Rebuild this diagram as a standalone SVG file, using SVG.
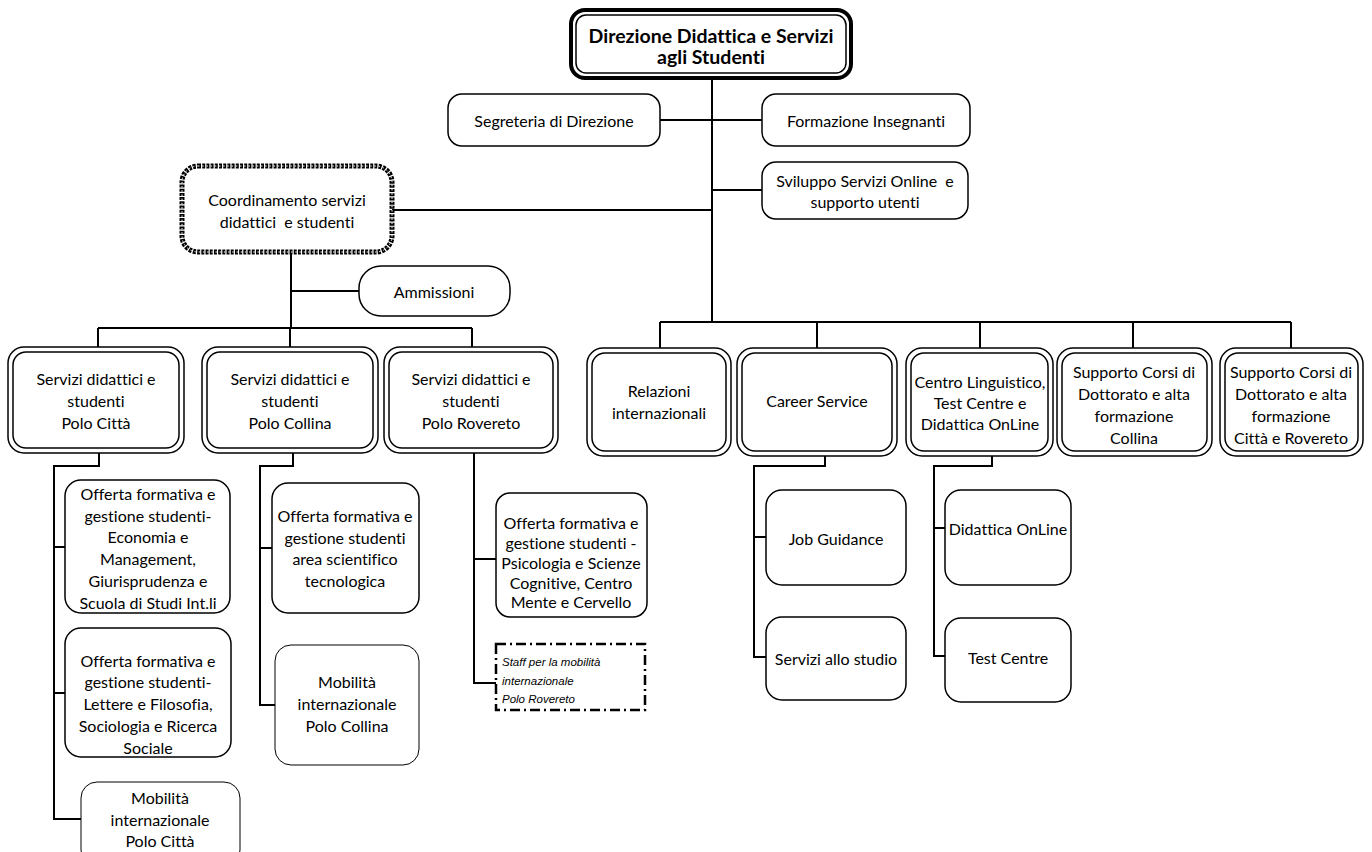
<svg xmlns="http://www.w3.org/2000/svg" width="1372" height="852" viewBox="0 0 1372 852">
<style>
.b{fill:#fff;stroke:#000;stroke-width:1.5}
.bi{fill:none;stroke:#000;stroke-width:1.5}
.t{font-family:Lato,"Open Sans",sans-serif;font-size:16px;text-anchor:middle;dominant-baseline:central;fill:#000;font-variant-ligatures:none}
.tb{font-family:Lato,"Open Sans",sans-serif;font-size:19.5px;font-weight:bold;text-anchor:middle;dominant-baseline:central;fill:#000;font-variant-ligatures:none}
.ti{font-family:"Liberation Sans",Arial,sans-serif;font-size:11.5px;font-style:italic;dominant-baseline:central;fill:#000}
.c{fill:none;stroke:#000;stroke-width:2}
</style>
<rect width="1372" height="852" fill="#fff"/>
<g id="connectors">
<path class="c" d="M712 78V322M660 120H762M712 190H762M392 210H712M660 322H1291M660 322V348M817 322V348M980 322V348M1133 322V348M1291 322V348"/>
<path class="c" d="M291 252V328M291 291H359M98 328H472M98 328V347M290 328V347M472 328V347"/>
<path class="c" d="M99 453V466H54V819H81M54 547H65M54 693H65"/>
<path class="c" d="M293 453V466H260V705H275M260 548H272"/>
<path class="c" d="M474 453V683H496M474 559H496"/>
<path class="c" d="M825 456V466H754V657H766M754 537H766"/>
<path class="c" d="M992 456V466H934V656H945M934 528H945"/>
</g>
<g id="n-direzione">
<rect x="571" y="10" width="280" height="68" rx="14" fill="#fff" stroke="#000" stroke-width="4"/>
<rect x="576" y="15" width="270" height="58" rx="10" class="bi" stroke-width="1.2"/>
<text class="tb" x="711" y="35">Direzione Didattica e Servizi</text>
<text class="tb" x="711" y="56">agli Studenti</text>
</g>
<g id="n-segreteria">
<rect class="b" x="448" y="94" width="212" height="52" rx="14"/>
<text class="t" x="554" y="120">Segreteria di Direzione</text>
</g>
<g id="n-formazione">
<rect class="b" x="762" y="94" width="208" height="52" rx="14"/>
<text class="t" x="866" y="120">Formazione Insegnanti</text>
</g>
<g id="n-sviluppo">
<rect class="b" x="762" y="162" width="206" height="57" rx="14"/>
<text class="t" x="865" y="180">Sviluppo Servizi Online&#160; e</text>
<text class="t" x="865" y="201">supporto utenti</text>
</g>
<g id="n-coordinamento">
<rect x="182" y="166" width="210" height="86" rx="16" fill="#fff" stroke="#000" stroke-width="5" stroke-dasharray="3 1.2"/>
<rect x="182" y="166" width="210" height="86" rx="16" fill="none" stroke="#fff" stroke-width="1" stroke-dasharray="1.5 2.7"/>
<text class="t" x="287" y="199">Coordinamento servizi</text>
<text class="t" x="287" y="221">didattici&#160; e studenti</text>
</g>
<g id="n-ammissioni">
<rect class="b" x="359" y="266" width="151" height="50" rx="22"/>
<text class="t" x="434" y="291">Ammissioni</text>
</g>
<g id="n-citta">
<rect class="b" x="8" y="347" width="176" height="106" rx="16"/>
<rect class="bi" x="13" y="352" width="166" height="96" rx="13"/>
<text class="t" x="96" y="378">Servizi didattici e</text>
<text class="t" x="96" y="400">studenti</text>
<text class="t" x="96" y="422">Polo Città</text>
</g>
<g id="n-collina">
<rect class="b" x="202" y="347" width="176" height="106" rx="16"/>
<rect class="bi" x="207" y="352" width="166" height="96" rx="13"/>
<text class="t" x="290" y="378">Servizi didattici e</text>
<text class="t" x="290" y="400">studenti</text>
<text class="t" x="290" y="422">Polo Collina</text>
</g>
<g id="n-rovereto">
<rect class="b" x="384" y="347" width="174" height="106" rx="16"/>
<rect class="bi" x="389" y="352" width="164" height="96" rx="13"/>
<text class="t" x="471" y="378">Servizi didattici e</text>
<text class="t" x="471" y="400">studenti</text>
<text class="t" x="471" y="422">Polo Rovereto</text>
</g>
<g id="n-relazioni">
<rect class="b" x="587" y="348" width="144" height="108" rx="16"/>
<rect class="bi" x="592" y="353" width="134" height="98" rx="13"/>
<text class="t" x="659" y="390">Relazioni</text>
<text class="t" x="659" y="412">internazionali</text>
</g>
<g id="n-career">
<rect class="b" x="737" y="348" width="160" height="108" rx="16"/>
<rect class="bi" x="742" y="353" width="150" height="98" rx="13"/>
<text class="t" x="817" y="400">Career Service</text>
</g>
<g id="n-centro">
<rect class="b" x="906" y="348" width="147" height="108" rx="16"/>
<rect class="bi" x="911" y="353" width="137" height="98" rx="13"/>
<text class="t" x="980" y="381">Centro Linguistico,</text>
<text class="t" x="980" y="402">Test Centre e</text>
<text class="t" x="980" y="423">Didattica OnLine</text>
</g>
<g id="n-supporto-collina">
<rect class="b" x="1057" y="348" width="155" height="108" rx="16"/>
<rect class="bi" x="1062" y="353" width="145" height="98" rx="13"/>
<text class="t" x="1134" y="371">Supporto Corsi di</text>
<text class="t" x="1134" y="393">Dottorato e alta</text>
<text class="t" x="1134" y="415">formazione</text>
<text class="t" x="1134" y="437">Collina</text>
</g>
<g id="n-supporto-citta">
<rect class="b" x="1220" y="348" width="143" height="108" rx="16"/>
<rect class="bi" x="1225" y="353" width="133" height="98" rx="13"/>
<text class="t" x="1291" y="371">Supporto Corsi di</text>
<text class="t" x="1291" y="393">Dottorato e alta</text>
<text class="t" x="1291" y="415">formazione</text>
<text class="t" x="1291" y="437">Città e Rovereto</text>
</g>
<g id="n-offerta-eco">
<rect class="b" x="65" y="480" width="165" height="133" rx="16"/>
<text class="t" x="148" y="493">Offerta formativa e</text>
<text class="t" x="148" y="515">gestione studenti-</text>
<text class="t" x="148" y="536">Economia e</text>
<text class="t" x="148" y="558">Management,</text>
<text class="t" x="148" y="580">Giurisprudenza e</text>
<text class="t" x="148" y="602">Scuola di Studi Int.li</text>
</g>
<g id="n-offerta-lettere">
<rect class="b" x="65" y="628" width="166" height="129" rx="16"/>
<text class="t" x="148" y="660">Offerta formativa e</text>
<text class="t" x="148" y="681">gestione studenti-</text>
<text class="t" x="148" y="703">Lettere e Filosofia,</text>
<text class="t" x="148" y="725">Sociologia e Ricerca</text>
<text class="t" x="148" y="747">Sociale</text>
</g>
<g id="n-mobilita-citta">
<rect x="81" y="782" width="159" height="84" rx="16" fill="#fff" stroke="#000" stroke-width="1"/>
<text class="t" x="160" y="797">Mobilità</text>
<text class="t" x="160" y="819">internazionale</text>
<text class="t" x="160" y="840">Polo Città</text>
</g>
<g id="n-offerta-sci">
<rect class="b" x="272" y="483" width="147" height="130" rx="16"/>
<text class="t" x="345" y="515">Offerta formativa e</text>
<text class="t" x="345" y="537">gestione studenti</text>
<text class="t" x="345" y="558">area scientifico</text>
<text class="t" x="345" y="580">tecnologica</text>
</g>
<g id="n-mobilita-collina">
<rect x="275" y="645" width="144" height="120" rx="16" fill="#fff" stroke="#000" stroke-width="1"/>
<text class="t" x="347" y="681">Mobilità</text>
<text class="t" x="347" y="703">internazionale</text>
<text class="t" x="347" y="725">Polo Collina</text>
</g>
<g id="n-offerta-psi">
<rect class="b" x="496" y="493" width="151" height="124" rx="14"/>
<text class="t" x="571" y="522">Offerta formativa e</text>
<text class="t" x="571" y="542">gestione studenti -</text>
<text class="t" x="571" y="562">Psicologia e Scienze</text>
<text class="t" x="571" y="582">Cognitive, Centro</text>
<text class="t" x="571" y="601">Mente e Cervello</text>
</g>
<g id="n-staff">
<rect x="496" y="644" width="149" height="66" fill="#fff" stroke="#000" stroke-width="2.5" stroke-dasharray="10 4 2 4"/>
<text class="ti" x="502" y="662">Staff per la mobilità</text>
<text class="ti" x="502" y="681">internazionale</text>
<text class="ti" x="502" y="699">Polo Rovereto</text>
</g>
<g id="n-job">
<rect class="b" x="766" y="490" width="140" height="95" rx="16"/>
<text class="t" x="836" y="538">Job Guidance</text>
</g>
<g id="n-servizi-studio">
<rect class="b" x="766" y="617" width="140" height="83" rx="16"/>
<text class="t" x="836" y="658">Servizi allo studio</text>
</g>
<g id="n-didattica-online">
<rect class="b" x="945" y="490" width="126" height="95" rx="16"/>
<text class="t" x="1008" y="528">Didattica OnLine</text>
</g>
<g id="n-test-centre">
<rect class="b" x="945" y="618" width="126" height="84" rx="16"/>
<text class="t" x="1008" y="657">Test Centre</text>
</g>
</svg>
